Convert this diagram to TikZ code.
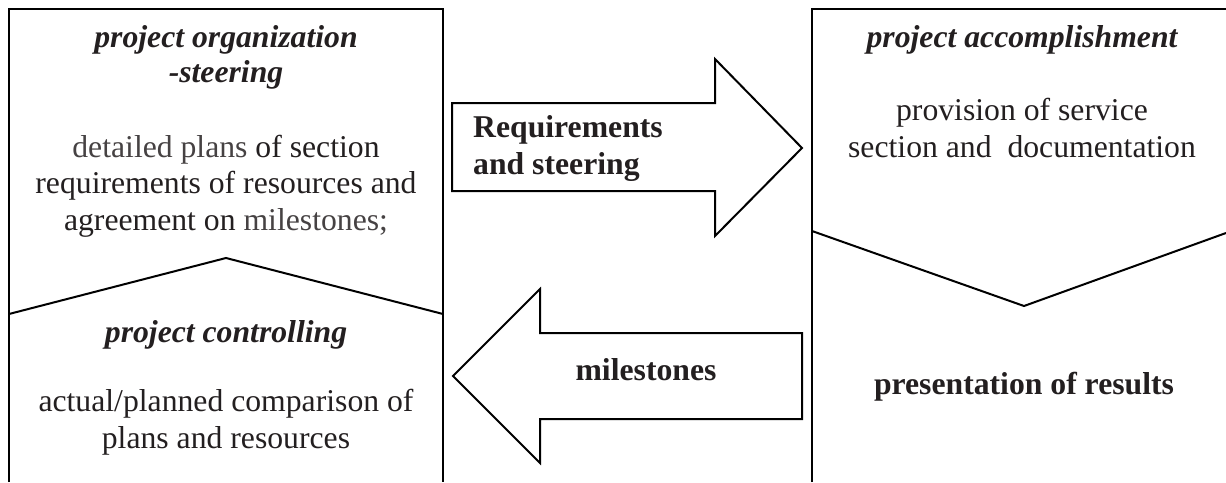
\documentclass[tikz,border=0pt]{standalone}
\usepackage{fontspec}
\setmainfont{Liberation Serif}
\definecolor{ink}{RGB}{35,31,32}
\definecolor{lightink}{RGB}{70,66,67}
\tikzset{
  frame/.style={draw=black, line width=2pt, line join=miter},
  bigarrow/.style={draw=black, line width=2pt, fill=white, line join=miter},
  txt/.style={text=ink, inner sep=0pt, anchor=base, align=center,
    font=\fontsize{31.7}{36.5}\selectfont},
  ttl/.style={txt, font=\fontsize{31.7}{35}\selectfont\bfseries\itshape},
  btxt/.style={txt, font=\fontsize{31.7}{36.5}\selectfont\bfseries},
}
\begin{document}
\begin{tikzpicture}[x=1pt, y=-1pt]
\useasboundingbox (0,0) rectangle (1226,482);
% left box
\draw[frame] (9,482) -- (9,9) -- (443,9) -- (443,482);
\draw[frame] (9,314) -- (226,258) -- (443,314);
% right box
\draw[frame] (812,482) -- (812,9) -- (1226,9);
\draw[frame] (812,231) -- (1024,306) -- (1226,233);
% arrows
\draw[bigarrow] (452,103) -- (715,103) -- (715,59) -- (802,148) -- (715,236) -- (715,191) -- (452,191) -- cycle;
\draw[bigarrow] (802,333) -- (540,333) -- (540,289) -- (453,376) -- (540,463) -- (540,419) -- (802,419) -- cycle;
% left texts (anchor = baseline of last line)
\node[ttl] (t1) at (226,82) {project organization\\-steering};
\node[txt] (b1) at (226,230) {\textcolor{lightink}{detailed plans} of section\\requirements of resources and\\agreement on \textcolor{lightink}{milestones;}};
\node[ttl] (t2) at (226,342) {project controlling};
\node[txt] (b2) at (226,448) {actual/planned comparison of\\plans and resources};
% right texts
\node[ttl] (t3) at (1022,47) {project accomplishment};
\node[txt] (b3) at (1022,157) {provision of service\\section and\ \ documentation};
\node[btxt] (b4) at (1024,394) {presentation of results};
% arrow labels
\node[btxt, align=left, anchor=base west] (a1) at (473,174) {Requirements\\and steering};
\node[btxt] (a2) at (646,380) {milestones};
\end{tikzpicture}
\end{document}
